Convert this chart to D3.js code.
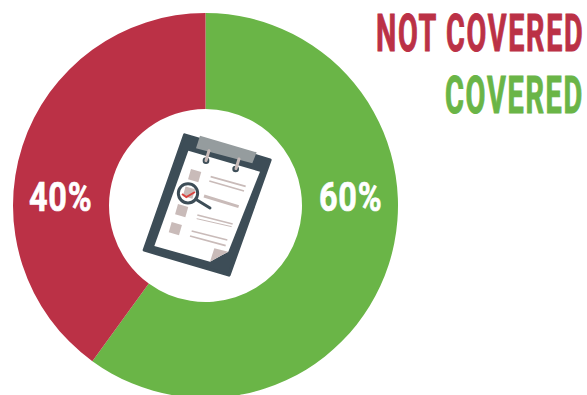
<!DOCTYPE html>
<html>
<head>
<meta charset="utf-8">
<style>
html, body { margin: 0; padding: 0; background: #fff; }
svg { display: block; }
text { font-family: Roboto, "Liberation Sans", sans-serif; font-weight: 700; }
</style>
<script src="https://cdn.jsdelivr.net/npm/d3@7/dist/d3.min.js"></script>
</head>
<body>
<svg id="chart" width="587" height="395"></svg>
<script>
const categories = ["COVERED", "NOT COVERED"];
const shares = [60, 40];
const shareLabels = ["60%", "40%"];
const sliceColors = ["#6ab547", "#bb3146"];

const svg = d3.select("#chart");
const cx = 205.5, cy = 205.5, outer = 192.5, inner = 96.5;

const color = d3.scaleOrdinal().domain(categories).range(sliceColors);
const pie = d3.pie().sort(null).value((d, i) => shares[i]);
const arc = d3.arc().innerRadius(inner).outerRadius(outer);

const ring = svg.append("g").attr("transform", `translate(${cx},${cy})`);
const slices = pie(categories);

ring.selectAll("path").data(slices).join("path")
  .attr("d", arc)
  .attr("fill", d => color(d.data));

// Squeeze a text horizontally so it spans the given width, keeping its left edge at x
function condense(sel, x, y, width) {
  sel.each(function (d, i) {
    const t = d3.select(this);
    const len = this.getComputedTextLength();
    t.attr("transform", `translate(${x(d, i)},${y(d, i)}) scale(${width(d, i) / len},1)`);
  });
}

// Percentages sit at mid-radius, a little above the horizontal through the centre
const labelLeft = [319, 29];
ring.append("g").attr("transform", `translate(${-cx},${-cy})`)
  .selectAll("text").data(slices).join("text")
  .attr("font-size", 41)
  .attr("letter-spacing", 1)
  .attr("fill", "#fff")
  .attr("stroke", "#fff")
  .attr("stroke-width", 0.7)
  .text((d, i) => shareLabels[i])
  .call(condense, (d, i) => labelLeft[i], () => 210.5, () => 63.5);

// Legend, right aligned, in condensed capitals
const legendRows = [
  { name: "NOT COVERED", left: 376, base: 51, w: 208.5 },
  { name: "COVERED", left: 445, base: 113, w: 139 }
];
svg.append("g").selectAll("text").data(legendRows).join("text")
  .attr("font-size", 51)
  .attr("letter-spacing", 3)
  .attr("fill", d => color(d.name))
  .attr("stroke", d => color(d.name))
  .attr("stroke-width", 1)
  .text(d => d.name)
  .call(condense, d => d.left, d => d.base, d => d.w);

// Clipboard icon in the hole of the ring, drawn on a 3x grid
const icon = svg.append("g").attr("transform", "translate(120,120) scale(0.3333)");
const slate = "#3d4d57", taupe = "#c9bbb9";
const poly = (pts, fill) => icon.append("polygon").attr("points", pts.join(" ")).attr("fill", fill);
const bar = (a, b, w, stroke, cap) => icon.append("line")
  .attr("x1", a[0]).attr("y1", a[1]).attr("x2", b[0]).attr("y2", b[1])
  .attr("stroke", stroke).attr("stroke-width", w).attr("stroke-linecap", cap || "butt");
const dot = (c, r, fill) => icon.append("circle").attr("cx", c[0]).attr("cy", c[1]).attr("r", r).attr("fill", fill);

icon.append("polygon")
  .attr("points", "194,45 450,120 327,465 73,390")
  .attr("fill", slate).attr("stroke", slate)
  .attr("stroke-width", 10).attr("stroke-linejoin", "round");
poly(["205,92", "420,155", "325,395", "270,425", "103,378"], "#fff");
poly(["270,425", "283,385", "325,395"], taupe);
poly(["240,47", "410,97", "397,130", "228,85"], "#959c9e");
dot([258, 122], 10, slate);
dot([347, 147], 10, slate);
bar([258, 122], [267, 92], 9, taupe, "round");
bar([348, 146], [357, 117], 9, taupe, "round");

[[224, 167], [185, 272], [166, 326]].forEach(c => {
  icon.append("rect")
    .attr("x", -16).attr("y", -16).attr("width", 32).attr("height", 32)
    .attr("fill", taupe)
    .attr("transform", `translate(${c[0]},${c[1]}) rotate(16)`);
});

[
  [[272, 170], [377, 199], 5], [[268, 183], [372, 213], 5],
  [[252, 228], [356, 260], 9],
  [[232, 285], [338, 312], 5], [[230, 296], [335, 320], 3],
  [[215, 333], [322, 360], 5], [[210, 348], [317, 377], 5]
].forEach(l => bar(l[0], l[1], l[2], taupe));

bar([232, 241], [270, 264], 9, slate, "round");
icon.append("circle").attr("cx", 204).attr("cy", 220).attr("r", 29)
  .attr("fill", "#fff").attr("stroke", slate).attr("stroke-width", 9);
icon.append("rect")
  .attr("x", -15).attr("y", -15).attr("width", 30).attr("height", 30)
  .attr("fill", taupe)
  .attr("transform", "translate(207,218) rotate(16)");
icon.append("polyline").attr("points", "186,222 199,231 225,216")
  .attr("fill", "none").attr("stroke", "#d8433f").attr("stroke-width", 6);
</script>
</body>
</html>
